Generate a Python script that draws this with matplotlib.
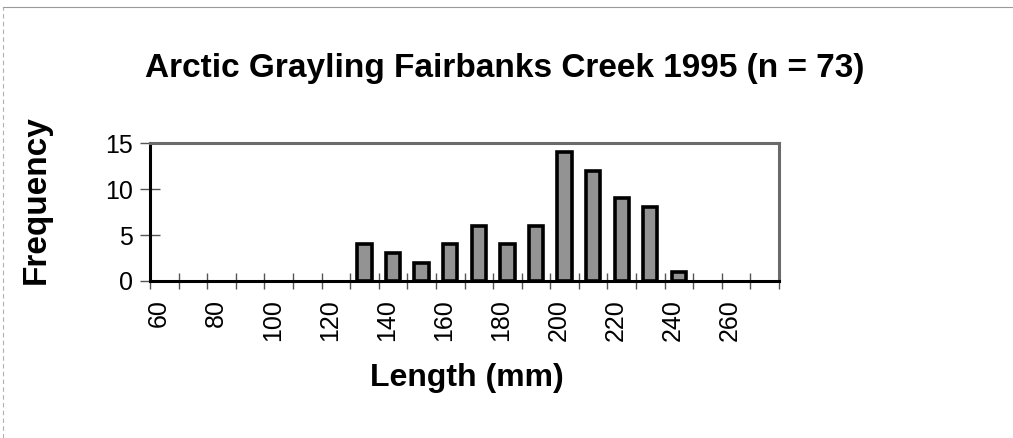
import matplotlib
matplotlib.use("Agg")
import matplotlib.pyplot as plt
from matplotlib.lines import Line2D
import matplotlib.transforms as mtransforms

plt.rcParams['font.family'] = ['Liberation Sans', 'DejaVu Sans']

lengths = [60, 70, 80, 90, 100, 110, 120, 130, 140, 150, 160, 170,
           180, 190, 200, 210, 220, 230, 240, 250, 260, 270]
frequency = [0, 0, 0, 0, 0, 0, 0, 4, 3, 2, 4, 6,
             4, 6, 14, 12, 9, 8, 1, 0, 0, 0]
tick_labels = ['60', '80', '100', '120', '140', '160', '180', '200', '220', '240', '260']
y_ticks = [0, 5, 10, 15]

title = "Arctic Grayling Fairbanks Creek 1995 (n = 73)"
xlabel = "Length (mm)"
ylabel = "Frequency"

W, H = 1013, 438
fig = plt.figure(figsize=(W / 100, H / 100), dpi=100)
ax = fig.add_axes([150 / W, 1 - 281 / H, (779 - 150) / W, (281 - 143) / H])

x = list(range(len(lengths)))
edges = ['black' if v > 0 else 'none' for v in frequency]
ax.bar(x, frequency, width=0.5, color='#939393', edgecolor=edges, linewidth=2.6, zorder=3)

ax.set_xlim(-0.5, len(lengths) - 0.5)
ax.set_ylim(0, 15)

# boundary ticks (no labels)
ax.set_xticks([i - 0.5 for i in range(len(lengths) + 1)])
ax.set_xticklabels([])
ax.tick_params(axis='x', which='major', direction='inout', length=11, width=1, color='#555555')
# labelled category positions
label_pos = [lengths.index(int(t)) for t in tick_labels]
ax.set_xticks(label_pos, minor=True)
ax.set_xticklabels(tick_labels, minor=True, rotation=90, fontsize=18)
ax.tick_params(axis='x', which='minor', length=0, pad=13)
offset = mtransforms.ScaledTranslation(-6 / 100, 0, fig.dpi_scale_trans)
for lbl in ax.get_xticklabels(minor=True):
    lbl.set_transform(lbl.get_transform() + offset)

ax.set_yticks(y_ticks)
ax.set_yticklabels([str(v) for v in y_ticks], fontsize=18)
ax.tick_params(axis='y', direction='inout', length=14, width=1, color='#555555', pad=5)

for s in ['left', 'bottom']:
    ax.spines[s].set_linewidth(2.2)
    ax.spines[s].set_color('black')
for s in ['top', 'right']:
    ax.spines[s].set_linewidth(2.2)
    ax.spines[s].set_color('#6a6a6a')

fig.text(505 / W, 1 - 69 / H, title, ha='center', va='center', fontsize=24, fontweight='bold')
fig.text(467 / W, 1 - 378 / H, xlabel, ha='center', va='center', fontsize=23, fontweight='bold')
fig.text(36 / W, 1 - 200 / H, ylabel, ha='center', va='center', fontsize=24, fontweight='bold', rotation=90)

# outer chart border (thin grey, top and left)
fig.add_artist(Line2D([3 / W, 1], [1 - 7 / H, 1 - 7 / H], transform=fig.transFigure, color='#9a9a9a', linewidth=0.8))
fig.add_artist(Line2D([3 / W, 3 / W], [0, 1 - 7 / H], transform=fig.transFigure, color='#b0b0b0', linewidth=0.8, linestyle=(0, (4, 3))))

fig.savefig('out.png', dpi=100)
